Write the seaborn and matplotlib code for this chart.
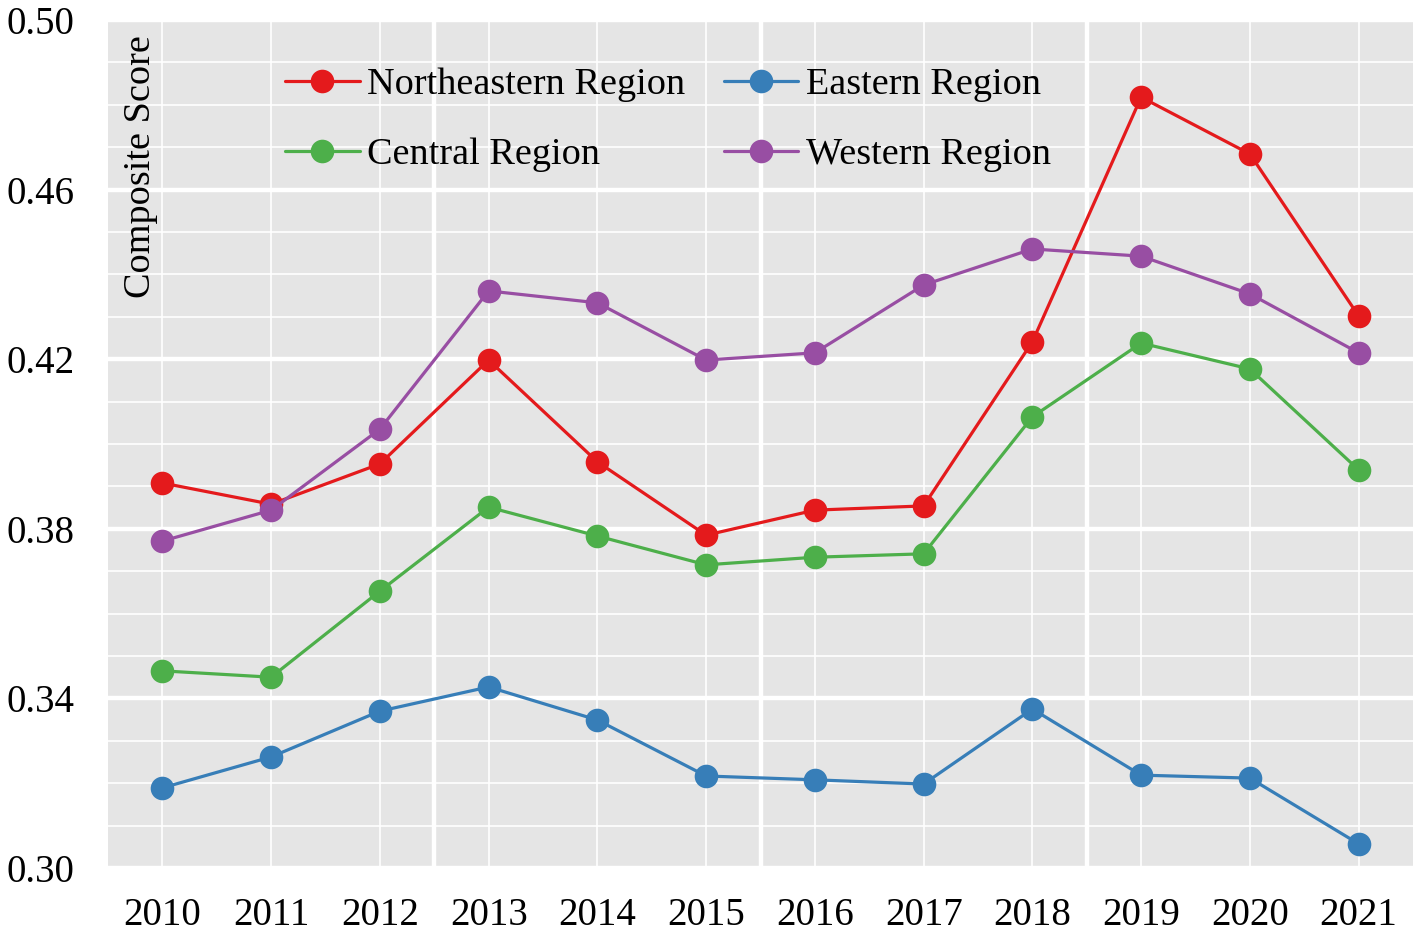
import matplotlib
matplotlib.use("Agg")
import matplotlib.pyplot as plt
import seaborn as sns
import numpy as np

years = [2010, 2011, 2012, 2013, 2014, 2015, 2016, 2017, 2018, 2019, 2020, 2021]
northeastern = [0.3908, 0.3858, 0.3953, 0.4198, 0.3958, 0.3785, 0.3844, 0.3854, 0.4241, 0.4818, 0.4684, 0.4302]
central = [0.3465, 0.3450, 0.3653, 0.3851, 0.3783, 0.3715, 0.3733, 0.3741, 0.4064, 0.4238, 0.4177, 0.3939]
eastern = [0.3189, 0.3262, 0.3370, 0.3427, 0.3349, 0.3217, 0.3208, 0.3198, 0.3375, 0.3219, 0.3212, 0.3057]
western = [0.3771, 0.3844, 0.4035, 0.4361, 0.4333, 0.4198, 0.4215, 0.4375, 0.4460, 0.4443, 0.4354, 0.4215]

names = ["Northeastern Region", "Central Region", "Eastern Region", "Western Region"]
colors = ["#E41A1C", "#4DAF4A", "#377EB8", "#984EA3"]
series = [northeastern, central, eastern, western]

sns.set_theme(style="darkgrid")
plt.rcParams["font.family"] = ["Liberation Serif", "DejaVu Serif"]
plt.rcParams["text.color"] = "black"
plt.rcParams["axes.labelcolor"] = "black"

fig = plt.figure(figsize=(14.18, 9.32), dpi=100)
ax = fig.add_axes([108 / 1418, 1 - 868 / 932, 1305 / 1418, 848 / 932])
ax.set_facecolor("#E5E5E5")

for name, vals, c in zip(names, series, colors):
    sns.lineplot(x=years, y=vals, color=c, marker="o", markersize=17,
                 markeredgewidth=0, linewidth=2.3, label=name, ax=ax)

ax.set_xlim(2009.5, 2021.5)
ax.set_ylim(0.30, 0.50)

# year labels on minor ticks, thick grid lines between year groups
ax.set_xticks([2012.5, 2015.5, 2018.5])
ax.set_xticklabels([])
ax.set_xticks(years, [str(y) for y in years], minor=True)
ax.set_yticks([0.30, 0.34, 0.38, 0.42, 0.46, 0.50], ["0.30", "0.34", "0.38", "0.42", "0.46", "0.50"])
ax.set_yticks(np.arange(0.30, 0.5001, 0.01), minor=True)

ax.grid(which="major", color="white", linewidth=3.2)
ax.grid(which="minor", color="white", linewidth=1.2)
ax.tick_params(axis="both", which="both", length=0, labelsize=28, colors="black")
ax.tick_params(axis="x", which="minor", pad=21)
ax.tick_params(axis="y", which="major", pad=24)
for s in ax.spines.values():
    s.set_visible(False)

ax.set_ylabel("Composite Score", fontsize=27.5, ha="right", va="center")
ax.yaxis.set_label_coords(0.025, 0.982)

ax.legend(loc="upper left", bbox_to_anchor=(0.124, 0.962), ncol=2, frameon=False,
          fontsize=27.5, handlelength=1.95, handletextpad=0.2, columnspacing=1.0,
          labelspacing=0.92, borderaxespad=0)

fig.savefig("out.png", dpi=100)
